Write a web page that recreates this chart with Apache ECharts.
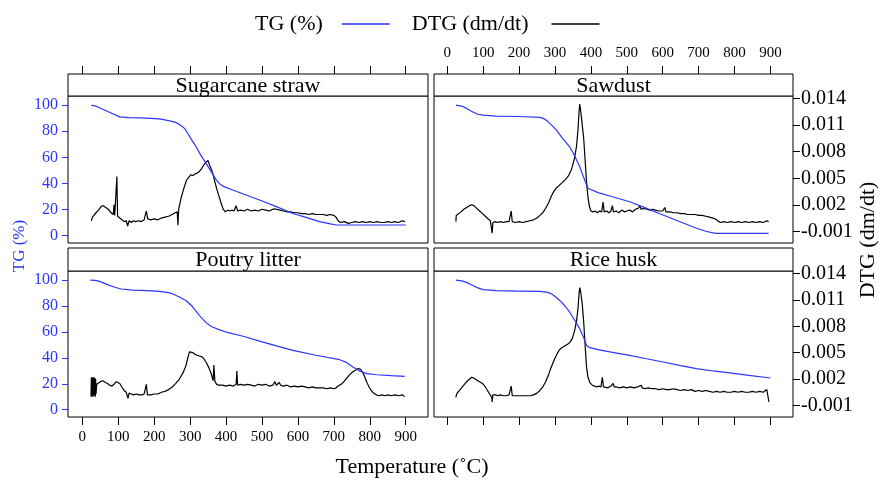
<!DOCTYPE html>
<html><head><meta charset="utf-8">
<script src="https://cdn.jsdelivr.net/npm/echarts@6/dist/echarts.min.js"></script>
<style>html,body{margin:0;padding:0;background:#fff}#c{width:886px;height:482px}</style>
</head><body><div id="c"></div>
<script>
// ---------- data ----------
const panelTitles = ['Sugarcane straw', 'Sawdust', 'Poutry litter', 'Rice husk'];
const tempTicks = [0, 100, 200, 300, 400, 500, 600, 700, 800, 900];
const tgTicks = [0, 20, 40, 60, 80, 100];
const dtgTicks = [-0.001, 0.002, 0.005, 0.008, 0.011, 0.014];

const tgSugarcane = [[25,100],[40,99],[60,96.5],[80,94],[104,91],[130,90.5],[160,90.3],[190,89.9],[215,89.5],[240,88.2],[255,87.2],[266,86],[276,84],[285,82],[295,77.5],[305,73],[317,68],[330,61.5],[345,55],[360,48.5],[373,42.6],[382,39.8],[391,38],[420,34.8],[450,31.7],[493,27.3],[540,22.3],[586,17],[620,14.2],[660,10.8],[690,9],[707,8.2],[800,8.2],[900,8.2]];
const dtgSugarcane = [[25,0.0002],[28,0.0006],[32,0.0008],[38,0.0011],[45,0.0014],[52,0.0018],[58,0.0019],[65,0.0017],[72,0.0015],[80,0.0011],[86,0.0009],[88,0.0020],[90,0.0008],[94,0.0009],[96,0.0052],[98,0.0007],[104,0.0005],[110,0.0003],[116,0.0001],[122,0.0002],[126,-0.0004],[130,0.0002],[136,0.0000],[142,0.0002],[148,0.0001],[156,0.0002],[164,0.0001],[172,0.0003],[178,0.0013],[182,0.0004],[190,0.0003],[200,0.0004],[210,0.0003],[220,0.0005],[230,0.0006],[240,0.0007],[250,0.0009],[258,0.0011],[264,0.0012],[266,-0.0003],[268,0.0015],[275,0.0028],[282,0.0038],[290,0.0048],[296,0.0051],[302,0.0054],[308,0.0053],[314,0.0055],[320,0.0056],[326,0.0058],[332,0.0061],[338,0.0065],[344,0.0068],[348,0.0066],[350,0.0070],[353,0.0066],[356,0.0063],[360,0.0059],[364,0.0054],[368,0.0047],[374,0.0038],[380,0.0030],[386,0.0022],[392,0.0015],[398,0.0012],[404,0.0014],[410,0.0013],[416,0.0014],[422,0.0013],[428,0.0019],[432,0.0013],[440,0.0014],[450,0.0013],[460,0.0015],[470,0.0013],[480,0.0014],[490,0.0013],[500,0.0015],[510,0.0014],[520,0.0013],[530,0.0015],[540,0.0015],[550,0.0014],[560,0.0013],[570,0.0012],[580,0.0012],[590,0.0011],[600,0.0011],[610,0.0010],[620,0.0010],[630,0.0009],[640,0.0010],[650,0.0009],[660,0.0009],[670,0.0009],[680,0.0008],[690,0.0009],[700,0.0008],[706,0.0006],[712,0.0002],[718,0.0000],[730,0.0001],[740,-0.0001],[750,0.0000],[760,0.0001],[770,0.0000],[780,0.0001],[790,0.0000],[800,0.0001],[810,0.0000],[820,0.0001],[830,0.0000],[840,0.0000],[850,0.0001],[860,0.0000],[870,0.0001],[880,0.0000],[890,0.0002],[898,0.0001]];

const tgSawdust = [[24,100],[40,99.3],[54,97.5],[70,95],[85,93],[100,92.3],[137,91.6],[200,91.3],[258,90.6],[270,89.5],[281,87.2],[292,84.3],[304,80.9],[320,75],[341,68.1],[355,61],[369,52.8],[380,44.5],[392,36.3],[397,35],[420,33],[460,29.8],[508,26],[550,21.5],[601,15.8],[650,10.5],[694,5.7],[720,3.4],[740,2.1],[750,1.8],[800,1.8],[895,1.8]];
const dtgSawdust = [[24,0.0001],[25,0.0008],[30,0.0009],[38,0.0012],[46,0.0015],[54,0.0017],[62,0.0019],[68,0.0020],[74,0.0019],[82,0.0016],[90,0.0013],[98,0.0010],[106,0.0007],[114,0.0004],[120,0.0002],[124,0.0000],[125,-0.0012],[127,0.0000],[134,0.0001],[140,0.0000],[148,0.0001],[156,0.0000],[164,0.0001],[172,0.0001],[178,0.0013],[181,0.0001],[190,0.0000],[200,0.0001],[210,0.0000],[220,0.0001],[230,0.0002],[240,0.0003],[250,0.0005],[258,0.0008],[266,0.0011],[274,0.0016],[282,0.0022],[290,0.0030],[298,0.0036],[304,0.0039],[312,0.0042],[320,0.0045],[330,0.0049],[338,0.0053],[346,0.0060],[354,0.0072],[360,0.0086],[364,0.0105],[367,0.0125],[369,0.0134],[372,0.0125],[376,0.0110],[380,0.0095],[384,0.0070],[388,0.0045],[392,0.0028],[396,0.0018],[400,0.0013],[406,0.0012],[412,0.0013],[418,0.0011],[424,0.0013],[430,0.0012],[434,0.0023],[437,0.0012],[444,0.0013],[450,0.0011],[456,0.0013],[460,0.0019],[463,0.0012],[470,0.0013],[478,0.0011],[486,0.0014],[494,0.0012],[500,0.0013],[508,0.0014],[516,0.0012],[524,0.0015],[532,0.0016],[536,0.0019],[540,0.0015],[548,0.0016],[556,0.0015],[564,0.0014],[572,0.0015],[580,0.0014],[590,0.0013],[600,0.0013],[606,0.0017],[609,0.0012],[620,0.0012],[630,0.0011],[640,0.0011],[650,0.0010],[660,0.0010],[670,0.0009],[680,0.0009],[690,0.0009],[700,0.0008],[710,0.0008],[720,0.0007],[730,0.0006],[740,0.0005],[750,0.0003],[756,0.0001],[762,0.0000],[770,0.0001],[780,0.0000],[790,0.0001],[800,0.0000],[810,0.0001],[820,0.0000],[830,0.0001],[840,0.0000],[850,0.0001],[860,0.0000],[870,0.0001],[880,0.0000],[890,0.0002],[895,0.0001]];

const tgPoultry = [[22,100],[35,99.8],[48,99],[70,96.5],[90,94.5],[108,93.1],[140,92.3],[180,91.8],[215,91.3],[240,90.3],[252,89.3],[270,87],[289,84.1],[305,80],[326,72.6],[345,67],[359,64.2],[380,61.8],[401,59.8],[450,56.5],[493,52.9],[540,49.2],[586,45.8],[650,42],[716,38.6],[735,36.5],[753,33],[772,29.8],[791,27.9],[820,27],[860,26.3],[897,25.8]];
const dtgPoultry = [[24,0.0000],[25,0.0022],[26,0.0000],[27,0.0021],[28,0.0001],[29,0.0022],[30,0.0000],[31,0.0021],[32,0.0002],[33,0.0022],[34,0.0001],[35,0.0021],[36,0.0000],[37,0.0020],[38,0.0003],[40,0.0014],[45,0.0016],[50,0.0017],[57,0.0018],[64,0.0016],[70,0.0015],[76,0.0013],[82,0.0012],[88,0.0014],[94,0.0017],[99,0.0018],[104,0.0015],[110,0.0011],[116,0.0007],[122,0.0005],[127,-0.0002],[130,0.0004],[136,0.0003],[142,0.0002],[150,0.0003],[158,0.0002],[166,0.0002],[172,0.0003],[178,0.0014],[181,0.0002],[190,0.0002],[200,0.0003],[210,0.0003],[220,0.0005],[230,0.0006],[240,0.0008],[250,0.0011],[260,0.0015],[270,0.0020],[280,0.0027],[288,0.0035],[294,0.0045],[298,0.0051],[302,0.0052],[308,0.0050],[314,0.0048],[320,0.0047],[328,0.0046],[334,0.0045],[340,0.0042],[346,0.0038],[352,0.0033],[358,0.0027],[362,0.0021],[364,0.0018],[366,0.0036],[369,0.0017],[374,0.0014],[380,0.0013],[390,0.0013],[400,0.0012],[410,0.0013],[420,0.0012],[428,0.0014],[430,0.0029],[432,0.0013],[440,0.0014],[450,0.0013],[460,0.0014],[470,0.0013],[480,0.0012],[490,0.0014],[500,0.0013],[510,0.0014],[520,0.0012],[530,0.0013],[536,0.0017],[540,0.0013],[548,0.0016],[552,0.0013],[560,0.0012],[570,0.0013],[580,0.0011],[590,0.0012],[600,0.0011],[610,0.0012],[620,0.0011],[630,0.0010],[640,0.0011],[650,0.0010],[660,0.0010],[670,0.0010],[680,0.0009],[690,0.0010],[700,0.0009],[706,0.0010],[712,0.0012],[720,0.0014],[728,0.0017],[736,0.0021],[744,0.0025],[752,0.0028],[760,0.0030],[768,0.0032],[774,0.0031],[780,0.0028],[786,0.0022],[792,0.0016],[798,0.0011],[804,0.0007],[810,0.0004],[818,0.0002],[826,0.0001],[834,0.0002],[842,0.0001],[850,0.0002],[860,0.0001],[870,0.0002],[880,0.0001],[890,0.0002],[897,0.0000]];

const tgRiceHusk = [[24,100],[40,99.4],[54,98.2],[70,96],[85,94],[100,92.6],[137,91.8],[200,91.5],[258,91.3],[280,90.5],[291,89.3],[302,87],[314,84.1],[328,80],[341,75.2],[355,69],[369,62.4],[380,55.5],[388,49.6],[397,47.9],[420,46.3],[460,44.3],[508,41.9],[555,39.3],[601,36.8],[650,34],[694,31.7],[740,29.9],[787,28.4],[840,26.5],[900,24.5]];
const dtgRiceHusk = [[24,-0.0001],[26,0.0003],[30,0.0005],[38,0.0009],[46,0.0013],[54,0.0017],[62,0.0020],[68,0.0022],[74,0.0021],[82,0.0019],[90,0.0017],[98,0.0015],[106,0.0011],[112,0.0007],[118,0.0003],[124,-0.0001],[125,-0.0006],[127,0.0002],[134,0.0002],[140,0.0001],[148,0.0002],[156,0.0001],[164,0.0001],[172,0.0002],[178,0.0012],[181,0.0001],[190,0.0001],[200,0.0001],[210,0.0001],[220,0.0001],[230,0.0001],[240,0.0002],[250,0.0004],[258,0.0007],[266,0.0011],[274,0.0017],[282,0.0025],[290,0.0034],[298,0.0042],[304,0.0047],[312,0.0053],[320,0.0056],[328,0.0058],[336,0.0060],[342,0.0062],[348,0.0066],[354,0.0074],[360,0.0086],[364,0.0100],[367,0.0117],[369,0.0124],[372,0.0118],[376,0.0105],[380,0.0085],[384,0.0058],[388,0.0033],[392,0.0022],[397,0.0016],[404,0.0013],[410,0.0012],[416,0.0011],[422,0.0012],[428,0.0011],[432,0.0022],[435,0.0011],[440,0.0012],[448,0.0010],[456,0.0012],[462,0.0015],[465,0.0011],[472,0.0011],[480,0.0010],[490,0.0011],[500,0.0010],[510,0.0011],[520,0.0010],[530,0.0011],[540,0.0013],[543,0.0010],[550,0.0009],[560,0.0010],[570,0.0009],[580,0.0009],[590,0.0008],[600,0.0009],[610,0.0008],[620,0.0008],[630,0.0009],[640,0.0008],[650,0.0007],[660,0.0008],[670,0.0007],[680,0.0008],[690,0.0006],[700,0.0007],[710,0.0006],[720,0.0007],[730,0.0006],[740,0.0005],[750,0.0006],[760,0.0005],[770,0.0006],[780,0.0005],[790,0.0005],[800,0.0006],[810,0.0005],[820,0.0006],[830,0.0005],[840,0.0005],[850,0.0006],[860,0.0005],[870,0.0006],[880,0.0005],[890,0.0008],[894,0.0006],[896,-0.0006]];

// ---------- chart ----------
const tgSets = [tgSugarcane, tgSawdust, tgPoultry, tgRiceHusk];
const dtgSets = [dtgSugarcane, dtgSawdust, dtgPoultry, dtgRiceHusk];
const SERIF = '"Liberation Serif", "DejaVu Serif", serif';
const BLUE = '#2b35ff';

const gridBoxes = [
  {left: 68, top: 96, width: 360, height: 147},
  {left: 434, top: 96, width: 359, height: 147},
  {left: 68, top: 271, width: 360, height: 146},
  {left: 434, top: 271, width: 359, height: 146}
];
const stripH = [22, 22, 23, 23];

const grid = gridBoxes.map(g => Object.assign({show: true, borderColor: '#000', borderWidth: 1, backgroundColor: 'transparent'}, g));

const xAxis = gridBoxes.map((g, i) => ({
  gridIndex: i, type: 'value',
  min: i % 2 ? -37 : -40, max: i % 2 ? 963 : 962,
  position: i < 2 ? 'top' : 'bottom',
  offset: i < 2 ? stripH[i] : 0,
  axisLine: {show: false, onZero: false},
  axisTick: {show: true, inside: false, length: 8, customValues: tempTicks, lineStyle: {color: '#000', width: 1}},
  axisLabel: {show: i === 1 || i === 2, customValues: tempTicks, fontFamily: SERIF, fontSize: 15, color: '#000', margin: 13},
  splitLine: {show: false}
}));

const yAxis = [];
gridBoxes.forEach((g, i) => {
  yAxis.push({
    gridIndex: i, type: 'value', min: -5.6, max: 107, position: 'left', show: i % 2 === 0,
    axisLine: {show: false, onZero: false},
    axisTick: {show: true, inside: false, length: 6, customValues: tgTicks, lineStyle: {color: BLUE, width: 1}},
    axisLabel: {customValues: tgTicks, fontFamily: SERIF, fontSize: 16, color: BLUE, margin: 10},
    splitLine: {show: false}
  });
  yAxis.push({
    gridIndex: i, type: 'value', min: -0.00232, max: 0.0143, position: 'right', show: i % 2 === 1,
    axisLine: {show: false, onZero: false},
    axisTick: {show: true, inside: false, length: 7, customValues: dtgTicks, lineStyle: {color: '#000', width: 1}},
    axisLabel: {customValues: dtgTicks, fontFamily: SERIF, fontSize: 20, color: '#000', margin: 8,
      formatter: v => v.toFixed(3)},
    splitLine: {show: false}
  });
});

const series = [];
gridBoxes.forEach((g, i) => {
  series.push({type: 'line', name: 'TG (%)', xAxisIndex: i, yAxisIndex: 2 * i, data: tgSets[i],
    symbol: 'none', showSymbol: false, lineStyle: {color: BLUE, width: 1.2}, itemStyle: {color: BLUE}, z: 3});
  series.push({type: 'line', name: 'DTG (dm/dt)', xAxisIndex: i, yAxisIndex: 2 * i + 1, data: dtgSets[i],
    symbol: 'none', showSymbol: false, lineStyle: {color: '#000', width: 1.2}, itemStyle: {color: '#000'}, z: 2});
});

const graphic = [];
gridBoxes.forEach((g, i) => {
  graphic.push({type: 'rect', shape: {x: g.left, y: g.top - stripH[i], width: g.width, height: stripH[i]},
    style: {fill: '#fff', stroke: '#000', lineWidth: 1}, z: 10});
  graphic.push({type: 'text', x: g.left + g.width / 2, y: g.top - stripH[i] / 2 + 1,
    style: {text: panelTitles[i], fontFamily: SERIF, fontSize: 22, fill: '#000', align: 'center', verticalAlign: 'middle'}, z: 11});
});
graphic.push({type: 'text', x: 20, y: 246, rotation: Math.PI / 2,
  style: {text: 'TG (%)', fontFamily: SERIF, fontSize: 17, fill: BLUE, align: 'center', verticalAlign: 'middle'}});
graphic.push({type: 'text', x: 868, y: 240, rotation: Math.PI / 2,
  style: {text: 'DTG (dm/dt)', fontFamily: SERIF, fontSize: 22, fill: '#000', align: 'center', verticalAlign: 'middle'}});
graphic.push({type: 'text', x: 412, y: 467,
  style: {text: 'Temperature (˚C)', fontFamily: SERIF, fontSize: 22, fill: '#000', align: 'center', verticalAlign: 'middle'}});

const chart = echarts.init(document.getElementById('c'), null, {renderer: 'canvas'});
chart.setOption({
  animation: false,
  backgroundColor: '#fff',
  legend: {
    data: [
      {name: 'TG (%)', textStyle: {padding: [0, 14, 0, 0]}},
      {name: 'DTG (dm/dt)', textStyle: {padding: [0, 18, 0, 0]}}
    ],
    top: 8, left: 250, align: 'right',
    icon: 'rect', itemWidth: 48, itemHeight: 1.5, itemGap: 22,
    textStyle: {fontFamily: SERIF, fontSize: 22, color: '#000'}
  },
  grid, xAxis, yAxis, series, graphic
});
</script>
</body></html>
